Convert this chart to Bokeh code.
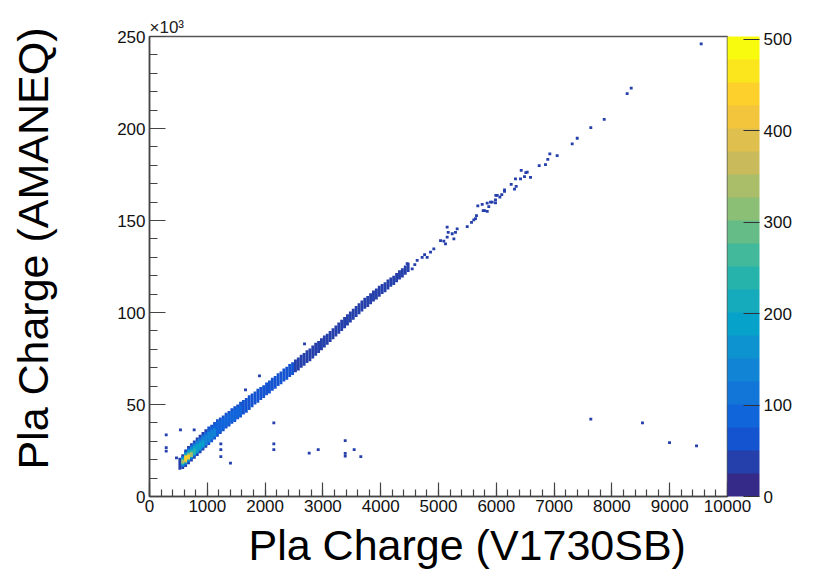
import numpy as np
from bokeh.plotting import figure
from bokeh.models import (LinearColorMapper, ColorBar, FixedTicker, ColumnDataSource,
                          Range1d, SingleIntervalTicker, Title)
from bokeh.embed import file_html
from bokeh.resources import INLINE

# ---------------- data (x: V1730SB charge, y: AMANEQ charge in units of 1e3) ----------------
# main correlation band, columns 50 wide in x
band_x = [525, 575, 625, 675, 725, 775, 825, 875, 925, 975,
          1025, 1075, 1125, 1175, 1225, 1275, 1325, 1375, 1425, 1475,
          1525, 1575, 1625, 1675, 1725, 1775, 1825, 1875, 1925, 1975,
          2025, 2075, 2125, 2175, 2225, 2275, 2325, 2375, 2425, 2475,
          2525, 2575, 2625, 2675, 2725, 2775, 2825, 2875, 2925, 2975,
          3025, 3075, 3125, 3175, 3225, 3275, 3325, 3375, 3425, 3475,
          3525, 3575, 3625, 3675, 3725, 3775, 3825, 3875, 3925, 3975,
          4025, 4075, 4125, 4175, 4225, 4275, 4325, 4375, 4425, 4475]
band_lo = [14.5, 15, 16, 17.5, 19, 20.5, 22, 23.5, 25, 26.5,
           28, 29.5, 31, 32.5, 34, 35.5, 37, 38, 39.5, 40.5,
           42, 43, 44.5, 45.5, 47, 48.5, 50, 51, 52.5, 53.5,
           55, 56, 57.5, 58.5, 60, 61, 62.5, 63.5, 65, 66,
           67.5, 68.5, 70, 71, 72.5, 73.5, 75, 76.5, 78, 79.5,
           81, 82.5, 84, 85.5, 87, 88.5, 90, 91.5, 93, 94.5,
           96, 97.5, 99, 100.5, 102, 103, 104.5, 106, 107, 108.5,
           110, 111, 112.5, 114, 115, 116.5, 118, 119, 120.5, 122]
band_hi = [21, 23, 25.5, 27.5, 29, 30.5, 32, 33.5, 35, 36.5,
           38, 39, 40.5, 42, 43, 44, 45.5, 46.5, 48, 49,
           50, 51.5, 52.5, 53.5, 55, 56, 57, 58.5, 59.5, 60.5,
           62, 63, 64.5, 65.5, 67, 68, 69.5, 70.5, 72, 73,
           74.5, 75.5, 77, 78, 79.5, 80.5, 82, 83.5, 84.5, 86,
           87.5, 88.5, 90, 91.5, 93, 94.5, 96, 97.5, 99, 100.5,
           102, 103.5, 105, 106.5, 108, 109, 110.5, 112, 113, 114.5,
           115.5, 116.5, 118, 119, 120, 121.5, 123, 124, 125.5, 127]
band_n = [40, 40, 40, 40, 40, 40, 40, 40, 40, 40,
          55, 55, 55, 55, 55, 55, 55, 55, 55, 55,
          55, 55, 55, 55, 55, 55, 55, 55, 55, 55,
          52, 52, 52, 52, 52, 52, 52, 52, 52, 52,
          50, 50, 50, 50, 50, 50, 50, 50, 50, 50,
          40, 40, 40, 40, 40, 40, 40, 40, 40, 40,
          35, 35, 35, 35, 35, 35, 35, 35, 35, 35,
          32, 32, 32, 32, 32, 32, 32, 32, 32, 32]

# dense core near the low end, columns 50 wide (drawn in order, low counts first)
core_x = [575, 625, 675, 725, 775, 825, 875, 925, 975, 1025, 1075, 1125, 1175, 1225, 1275, 1325,
          1375, 1425, 1475, 1525, 1575,
          575, 625, 675, 725, 775, 825, 875, 925, 975, 1025, 1075, 1125,
          575, 625, 675, 725, 775, 825, 875, 925,
          575, 625, 675, 725, 775,
          575, 625, 675, 725,
          625, 675]
core_lo = [16, 17, 18.5, 20, 21.5, 23, 24.5, 26, 27.5, 29, 30.5, 32, 33.5, 35, 36.5, 38,
           39, 40.5, 41.5, 43, 44,
           16.5, 17.5, 19, 20.5, 22, 23.5, 25, 26.5, 28, 29.5, 31, 32.5,
           17, 18, 19.5, 21, 22.5, 24, 25.5, 27,
           17.5, 18.5, 20, 21.5, 23,
           18, 18.5, 20, 21.5,
           19, 20.5]
core_hi = [22, 24.5, 26.5, 28, 29.5, 31, 32, 33.5, 35, 36.5, 37.5, 39, 40.5, 41.5, 42.5, 44,
           45, 46.5, 47.5, 48.5, 49.5,
           21.5, 24, 25.5, 27, 28.5, 30, 31, 32.5, 33.5, 35, 36, 37,
           21, 23.5, 25, 26, 27.5, 28.5, 29.5, 30.5,
           20.5, 23, 24, 25, 26,
           20, 22.5, 23.5, 24,
           22, 22.5]
core_n = [90] * 21 + [130] * 12 + [180] * 8 + [240] * 5 + [330] * 4 + [450] * 2

# scattered single bins
pt_x = [289, 289, 289, 536, 467, 773, 1234, 1234, 1234, 1401, 2151, 2151, 2151, 2763, 2919,
        3386, 3386, 3386, 3541, 3656, 7635, 8529, 8997, 9464, 1661, 1903, 2682,
        4458, 4545, 4631, 4717, 4804, 4862, 4919, 4590, 4760,
        5035, 5092, 5121, 5150, 5150, 5168, 5237, 5266, 5294, 5323,
        5497, 5571, 5611, 5640, 5657,
        5680, 5756, 5773, 5796, 5842, 5843, 5870, 5900, 5929, 5986, 5986,
        5992, 6016, 6062, 6095, 6142, 6142,
        6258, 6315, 6344, 6332, 6419, 6431, 6488, 6511, 6535, 6592,
        6742, 6851, 6891, 6926, 7053,
        7313, 7400, 7635, 7867, 8264, 8334, 9545]
pt_y = [33.5, 26.5, 24.6, 36.2, 21.0, 36.2, 28.6, 25.5, 21.7, 18.1, 40.0, 28.6, 25.5, 23.6, 25.5,
        30.4, 23.5, 21.9, 25.5, 21.7, 42.0, 40.0, 29.3, 27.5, 58.0, 65.6, 83.0,
        126.5, 123.7, 128.3, 130.0, 130.0, 132.8, 134.6, 126.0, 131.5,
        139.0, 138.8, 137.3, 141.0, 146.4, 143.6, 142.8, 140.0, 143.6, 145.5,
        146.7, 149.0, 150.4, 151.0, 152.7,
        158.0, 158.7, 155.4, 155.4, 159.4, 154.9, 157.6, 160.0, 160.0, 159.6, 161.2,
        163.7, 163.6, 162.7, 164.0, 165.8, 166.7,
        169.6, 167.0, 168.5, 172.6, 172.6, 177.3, 173.9, 176.0, 176.3, 173.5,
        179.8, 180.4, 183.2, 186.2, 185.2,
        191.7, 194.7, 200.5, 205.0, 219.0, 222.0, 246.0]
pt_n = [30] * len(pt_x)

x_ticks_major = 1000
y_ticks_major = 50
z_ticks = [0, 100, 200, 300, 400, 500]

# ---------------- palette (ROOT kBird, 20 contour levels) ----------------
stops = np.linspace(0, 1, 9)
r = [0.2082, 0.0592, 0.0780, 0.0232, 0.1802, 0.5301, 0.8186, 0.9956, 0.9764]
g = [0.1664, 0.3599, 0.5041, 0.6419, 0.7178, 0.7492, 0.7328, 0.7862, 0.9832]
b = [0.5293, 0.8684, 0.8385, 0.7914, 0.6425, 0.4662, 0.3499, 0.1968, 0.0539]
tt = np.linspace(0, 1, 20)
palette = ["#%02x%02x%02x" % (int(round(np.interp(t, stops, r) * 255)),
                              int(round(np.interp(t, stops, g) * 255)),
                              int(round(np.interp(t, stops, b) * 255))) for t in tt]
mapper = LinearColorMapper(palette=palette, low=0, high=503)

FONT = "Liberation Sans"

p = figure(frame_width=578, frame_height=460, min_border_left=149, min_border_top=36,
           min_border_bottom=79, min_border_right=92,
           x_range=Range1d(0, 10000), y_range=Range1d(0, 250),
           output_backend="svg", toolbar_location=None)
p.background_fill_color = "white"
p.border_fill_color = "white"
p.grid.visible = False
p.outline_line_color = "#555555"
p.outline_line_width = 1.5


def cells(xs, half_w, lo, hi, n):
    return ColumnDataSource(dict(l=[v - half_w for v in xs], r=[v + half_w for v in xs],
                                 lo=lo, hi=hi, n=n))


for src in (cells(band_x, 25, band_lo, band_hi, band_n),
            cells(core_x, 25, core_lo, core_hi, core_n),
            cells(pt_x, 25, [v - 0.75 for v in pt_y], [v + 0.75 for v in pt_y], pt_n)):
    p.quad(left="l", right="r", bottom="lo", top="hi", source=src,
           fill_color={"field": "n", "transform": mapper}, line_color=None)

# axes
xa = p.xaxis[0]
xa.ticker = SingleIntervalTicker(interval=x_ticks_major, num_minor_ticks=5)
ya = p.yaxis[0]
ya.ticker = SingleIntervalTicker(interval=y_ticks_major, num_minor_ticks=5)
for ax, maj, mnr, so in ((xa, 14, 7, 3), (ya, 16, 8, 4)):
    ax.major_tick_in = maj
    ax.major_tick_out = 0
    ax.minor_tick_in = mnr
    ax.minor_tick_out = 0
    ax.axis_line_color = "#444444"
    ax.axis_line_width = 1.5
    ax.major_tick_line_color = "#444444"
    ax.minor_tick_line_color = "#444444"
    ax.major_tick_line_width = 1.2
    ax.minor_tick_line_width = 1.2
    ax.major_label_text_font = FONT
    ax.major_label_text_font_size = "17px"
    ax.major_label_text_color = "#111111"
    ax.major_label_standoff = so
ya.major_label_orientation = "horizontal"

ya.axis_label = "\u00a0\u00a0\u00a0Pla Charge (AMANEQ)"
ya.axis_label_standoff = 57
ya.axis_label_text_font = FONT
ya.axis_label_text_font_size = "43px"
ya.axis_label_text_font_style = "normal"
ya.axis_label_text_color = "#000000"

cb = ColorBar(color_mapper=mapper, width=32, height=460, margin=3, padding=0,
              ticker=FixedTicker(ticks=z_ticks), major_tick_in=16, major_tick_out=0,
              major_tick_line_color="#333333", major_tick_line_width=1.2,
              minor_tick_line_color=None, bar_line_color=None,
              major_label_text_font=FONT, major_label_text_font_size="17px",
              major_label_text_color="#111111", label_standoff=4,
              background_fill_alpha=0, border_line_color=None)
p.add_layout(cb, "right")

p.add_layout(Title(text="×10³", align="left", offset=0, standoff=0, text_font=FONT,
                   text_font_size="17px", text_font_style="normal", text_color="#222222"), "above")
p.add_layout(Title(text="Pla Charge (V1730SB)", align="left", offset=99, standoff=8, text_font=FONT,
                   text_font_size="43px", text_font_style="normal", text_color="#000000"), "below")

open("out.html", "w").write(file_html(p, INLINE))
